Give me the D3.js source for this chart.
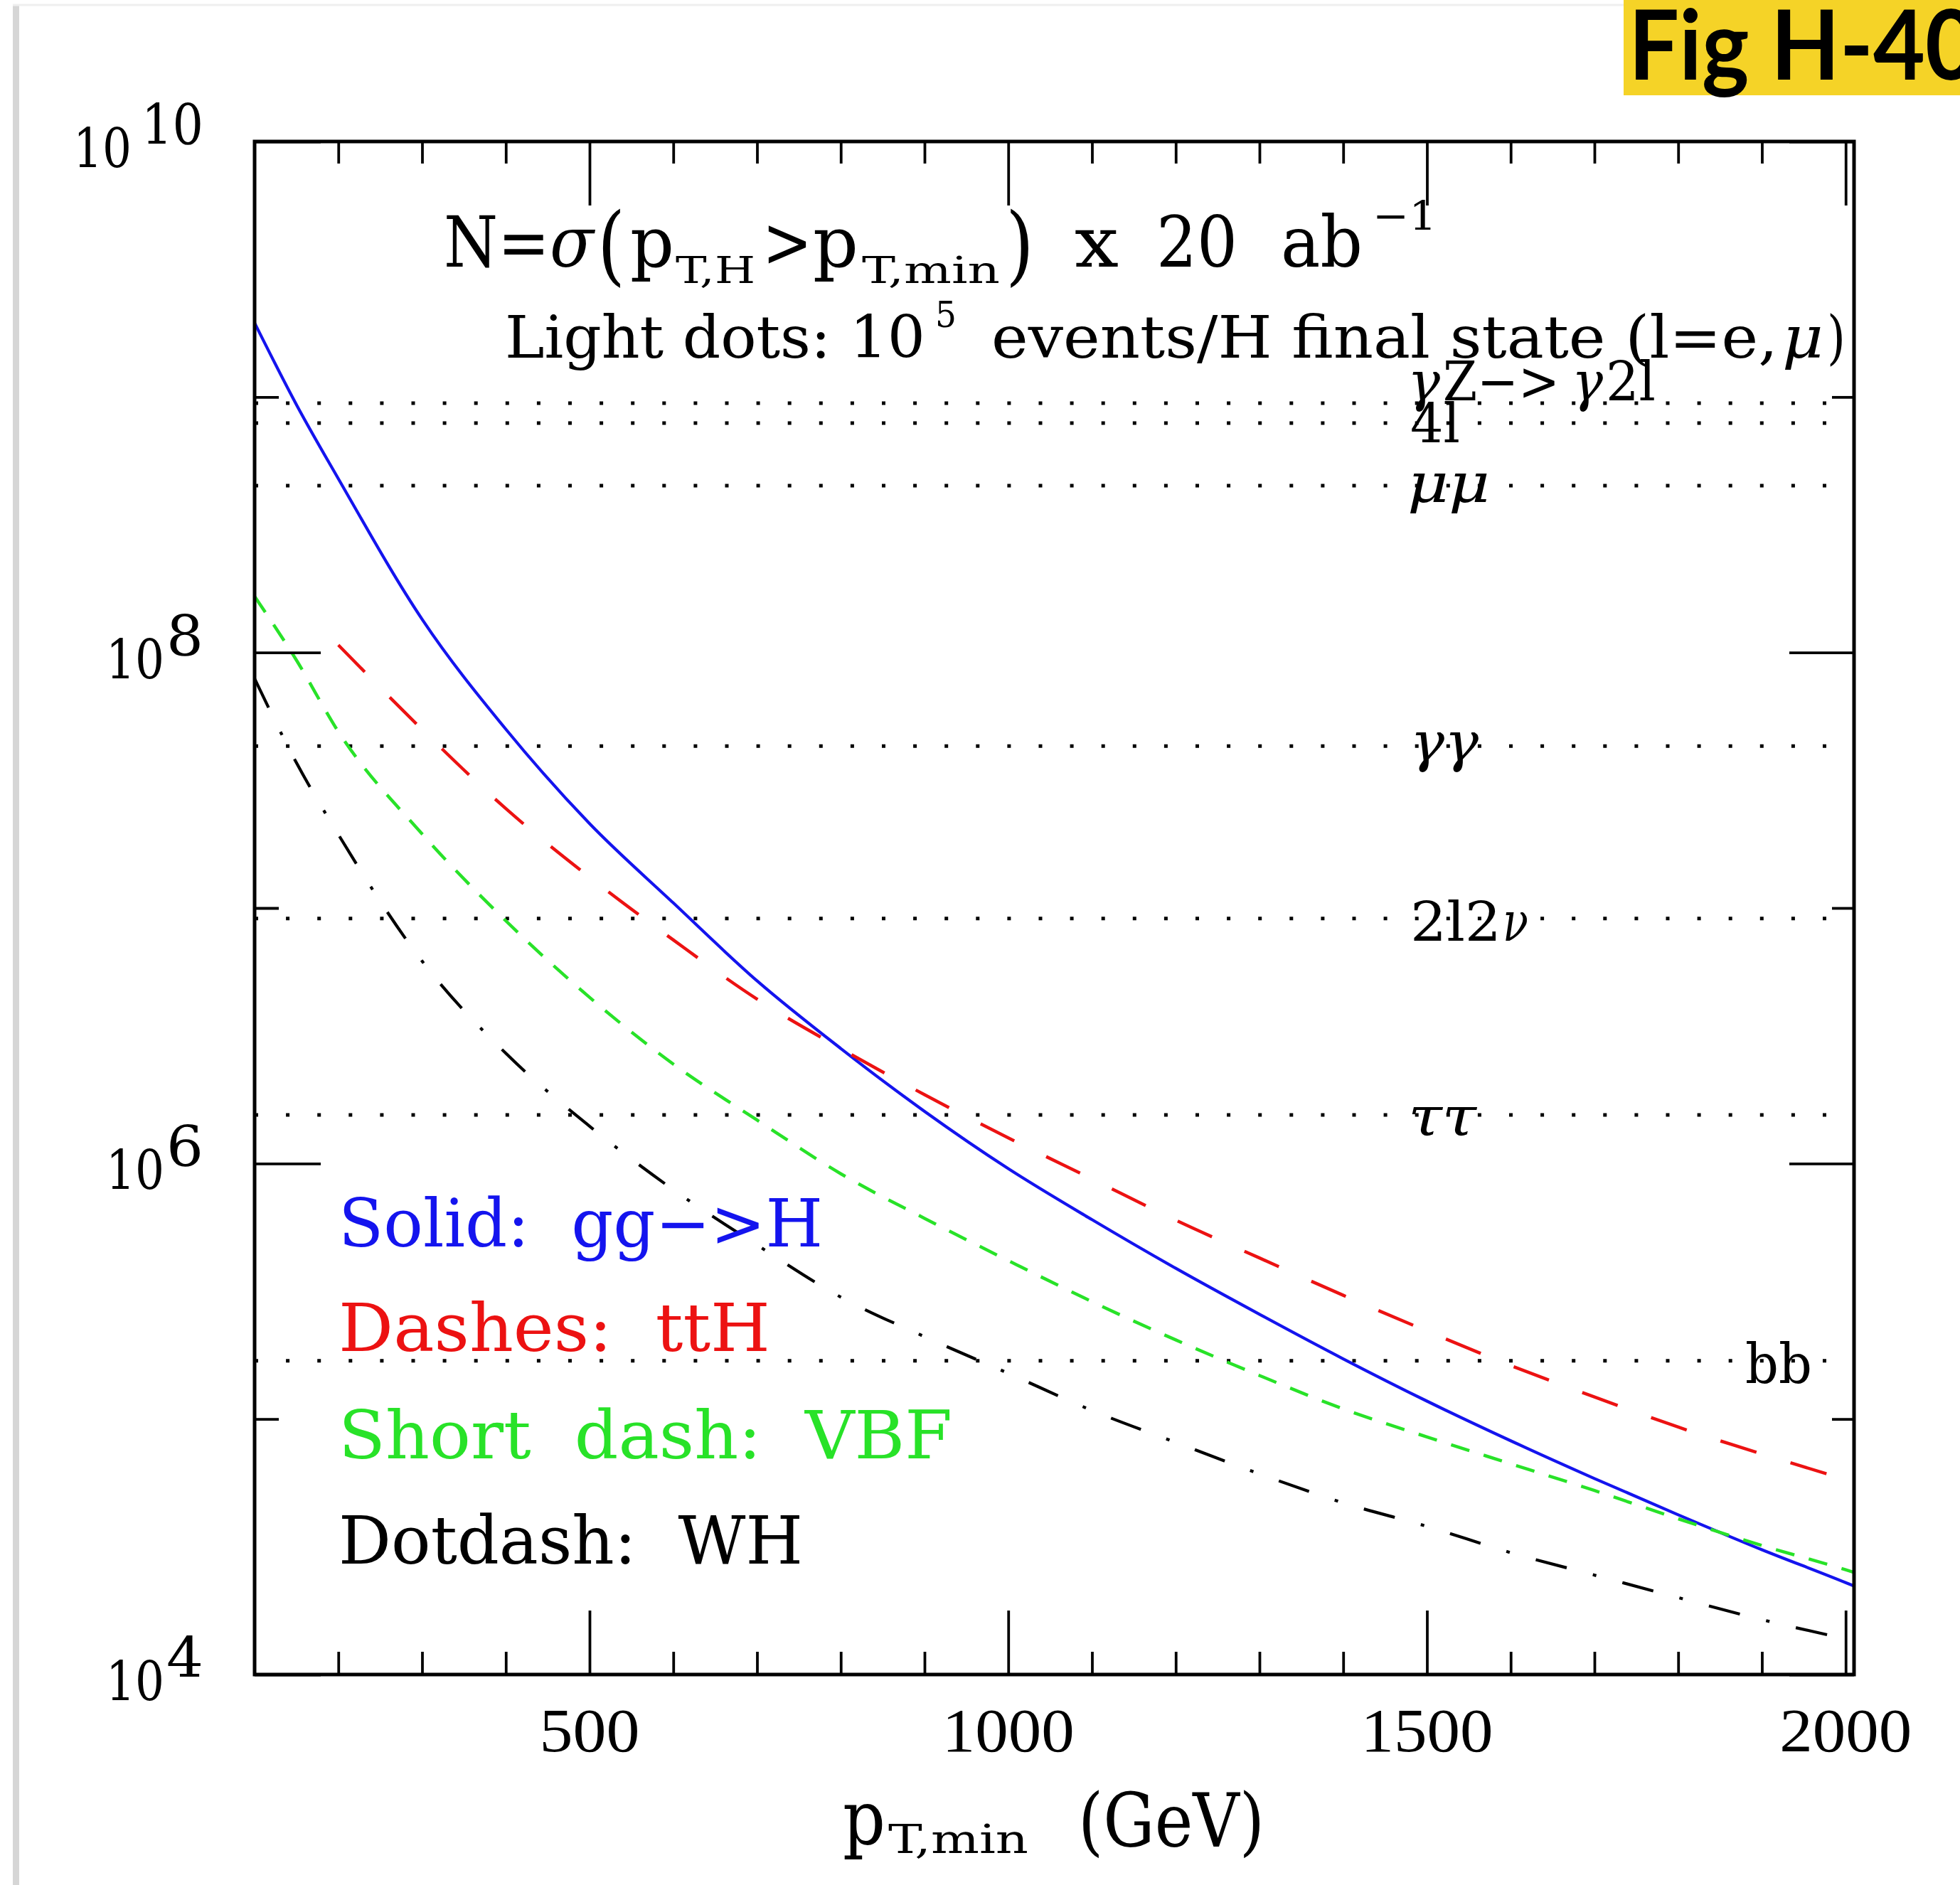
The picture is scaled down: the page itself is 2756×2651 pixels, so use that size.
<!DOCTYPE html>
<html>
<head>
<meta charset="utf-8">
<script src="https://cdn.jsdelivr.net/npm/d3@7"></script>
<style>
  body { margin: 0; background: #fff; }
</style>
</head>
<body>
<script>
const W = 2756, H = 2651;
const margin = { top: 199, right: 149, bottom: 296, left: 358 };

// pT,min (GeV) vs number of events N
const ggH = [[100,1.95e9],[150,9.33e8],[200,4.79e8],[300,1.35e8],[400,5.01e7],[500,2.14e7],[600,1.047e7],
  [700,5.19e6],[800,2.82e6],[900,1.60e6],[1000,9.55e5],[1100,6.03e5],[1200,3.89e5],[1300,2.57e5],
  [1400,1.72e5],[1500,1.175e5],[1600,8.22e4],[1700,5.85e4],[1800,4.22e4],[1900,3.08e4],[2000,2.29e4],[2010,2.22e4]];
const ttH = [[200,1.07e8],[300,5.0e7],[400,2.45e7],[500,1.32e7],[600,7.5e6],[700,4.4e6],[800,2.82e6],
  [900,1.86e6],[1000,1.26e6],[1100,8.7e5],[1200,6.0e5],[1300,4.27e5],[1400,3.05e5],[1500,2.21e5],
  [1600,1.62e5],[1700,1.22e5],[1800,9.3e4],[1900,7.3e4],[2000,5.8e4]];
const vbf = [[100,1.66e8],[150,9.33e7],[200,4.9e7],[300,1.95e7],[400,8.91e6],[500,4.47e6],[600,2.45e6],
  [700,1.48e6],[800,9.12e5],[900,6.1e5],[1000,4.17e5],[1100,2.88e5],[1200,2.04e5],[1300,1.48e5],
  [1400,1.096e5],[1500,8.51e4],[1600,6.68e4],[1700,5.25e4],[1800,4.07e4],[1900,3.2e4],[2000,2.57e4],[2010,2.51e4]];
const wh = [[100,7.9e7],[150,3.7e7],[200,1.94e7],[300,6.2e6],[400,2.7e6],[500,1.4e6],[600,7.9e5],
  [700,4.8e5],[800,3.0e5],[900,2.1e5],[1000,1.51e5],[1100,1.08e5],[1200,8.1e4],[1300,6.1e4],
  [1400,4.7e4],[1500,3.8e4],[1600,3.0e4],[1700,2.45e4],[1800,2.0e4],[1900,1.64e4],[2000,1.38e4]];

// 10^5 events / H final state levels
const channels = ["γZ−>γ2l", "4l", "μμ", "γγ", "2l2ν", "ττ", "bb"];
const channelN = [9.46e8, 7.9e8, 4.5e8, 4.3e7, 9.1e6, 1.55e6, 1.69e5];

const xMajor = [500, 1000, 1500, 2000];
const xMinor = [200, 300, 400, 600, 700, 800, 900, 1100, 1200, 1300, 1400, 1600, 1700, 1800, 1900];
const yMajorExp = [4, 6, 8, 10];
const yMinorExp = [5, 7, 9];

const legendLabels = ["Solid:  gg−>H", "Dashes:  ttH", "Short  dash:  VBF", "Dotdash:  WH"];

const x = d3.scaleLinear().domain([100, 2010]).range([margin.left, W - margin.right]);
const y = d3.scaleLog().domain([1e4, 1e10]).range([H - margin.bottom, margin.top]);

const svg = d3.select("body").append("svg")
  .attr("width", W).attr("height", H)
  .style("background", "#fff");

const SERIF = "'DejaVu Serif', 'Liberation Serif', serif";

function label(parent, px, py, str, o = {}) {
  const t = parent.append("text")
    .attr("x", px).attr("y", py)
    .style("font-family", o.family || SERIF)
    .style("font-size", (o.size || 80) + "px")
    .style("fill", o.fill || "#000")
    .style("white-space", "pre")
    .text(str);
  if (o.italic) t.style("font-style", "italic");
  if (o.weight) t.style("font-weight", o.weight);
  if (o.anchor) t.attr("text-anchor", o.anchor);
  if (o.len) t.attr("textLength", o.len).attr("lengthAdjust", "spacingAndGlyphs");
  return t;
}

// page edge shading
svg.append("rect").attr("x", 18).attr("y", 8).attr("width", 9).attr("height", H - 8).attr("fill", "#d6d6d6");
svg.append("line").attr("x1", 18).attr("x2", 2283).attr("y1", 7).attr("y2", 7)
  .attr("stroke", "#efefef").attr("stroke-width", 3);

// Dotted levels
const dots = svg.append("g");
channelN.forEach(v => {
  dots.append("line")
    .attr("x1", x.range()[0]).attr("x2", x.range()[1])
    .attr("y1", y(v)).attr("y2", y(v))
    .attr("stroke", "#000").attr("stroke-width", 5)
    .attr("stroke-dasharray", "5,39.1");
});

// channel labels (offsets relative to their dotted level)
const chanLayout = [
  { pieces: [["γ", 1979, 46, true], ["Z−>", 2029, 164, false], ["γ", 2210, 44, true], ["2l", 2258, 70, false]], dy: -4 },
  { pieces: [["4l", 1983, 70, false]], dy: 27 },
  { pieces: [["μμ", 1979, 116, true]], dy: 23 },
  { pieces: [["γγ", 1983, 96, true]], dy: 21 },
  { pieces: [["2l2", 1983, 128, false], ["ν", 2113, 36, true]], dy: 31 },
  { pieces: [["ττ", 1980, 96, true]], dy: 29 },
  { pieces: [["bb", 2454, 94, false]], dy: 31 }
];
chanLayout.forEach((c, i) => {
  const by = y(channelN[i]) + c.dy;
  c.pieces.forEach(p => label(svg, p[1], by, p[0], { size: 76, len: p[2], italic: p[3] }));
});

// Curves
const line = d3.line().x(d => x(d[0])).y(d => y(d[1])).curve(d3.curveMonotoneX);
const series = [
  { data: ggH, color: "#1414ee", dash: null, w: 4.2 },
  { data: ttH, color: "#ec1212", dash: "53,50", w: 4.5 },
  { data: vbf, color: "#28e228", dash: "27,21", w: 4.5 },
  { data: wh, color: "#000", dash: "45,38,5,38", w: 4.2 }
];
svg.append("g").selectAll("path")
  .data(series)
  .join("path")
    .attr("d", d => line(d.data))
    .attr("fill", "none")
    .attr("stroke", d => d.color)
    .attr("stroke-width", d => d.w)
    .attr("stroke-dasharray", d => d.dash);

// Ticks on all four sides, pointing inward
function ticks(gen, tr) {
  const g = svg.append("g").attr("transform", tr).call(gen);
  g.select(".domain").remove();
  g.selectAll("text").remove();
  g.selectAll("line").attr("stroke", "#000").attr("stroke-width", 3.8);
}
const yB = H - margin.bottom, yT = margin.top, xL = margin.left, xR = W - margin.right;
ticks(d3.axisBottom(x).tickValues(xMajor).tickSize(-90).tickFormat(""), `translate(0,${yB})`);
ticks(d3.axisBottom(x).tickValues(xMinor).tickSize(-32).tickFormat(""), `translate(0,${yB})`);
ticks(d3.axisTop(x).tickValues(xMajor).tickSize(-90).tickFormat(""), `translate(0,${yT})`);
ticks(d3.axisTop(x).tickValues(xMinor).tickSize(-31).tickFormat(""), `translate(0,${yT})`);
const yMajor = yMajorExp.map(e => Math.pow(10, e));
const yMinor = yMinorExp.map(e => Math.pow(10, e));
ticks(d3.axisLeft(y).tickValues(yMajor).tickSize(-93).tickFormat(""), `translate(${xL},0)`);
ticks(d3.axisLeft(y).tickValues(yMinor).tickSize(-34).tickFormat(""), `translate(${xL},0)`);
ticks(d3.axisRight(y).tickValues(yMajor).tickSize(-91).tickFormat(""), `translate(${xR},0)`);
ticks(d3.axisRight(y).tickValues(yMinor).tickSize(-31).tickFormat(""), `translate(${xR},0)`);

// Frame
svg.append("rect")
  .attr("x", xL).attr("y", yT)
  .attr("width", xR - xL).attr("height", yB - yT)
  .attr("fill", "none").attr("stroke", "#000").attr("stroke-width", 5);

// X tick labels
xMajor.forEach(v => {
  label(svg, x(v), 2463, String(v), { size: 86, anchor: "middle", family: "'Liberation Serif', serif", len: v >= 1000 ? 186 : 141 });
});

// Y tick labels 10^n
yMajorExp.forEach(e => {
  const ty = y(Math.pow(10, e));
  const s = String(e);
  const supLen = s.length > 1 ? 87 : 52;
  label(svg, 286, ty + 4, s, { size: 78, anchor: "end", len: supLen });
  label(svg, 286 - supLen - (s.length > 1 ? 14 : 3), ty + 36, "10", { size: 76, anchor: "end", len: 82 });
});

// X axis title
label(svg, 1185, 2593, "p", { size: 104, len: 60 });
label(svg, 1249, 2606, "T,min", { size: 56, len: 197 });
label(svg, 1516, 2597, "(GeV)", { size: 104, len: 262 });

// Title: N=σ(pT,H>pT,min) x 20 ab^-1
label(svg, 624, 375, "N=", { size: 100, len: 149 });
label(svg, 773, 375, "σ", { size: 100, len: 62, italic: true });
label(svg, 840, 386, "(", { size: 122, len: 39 });
label(svg, 886, 375, "p", { size: 100, len: 62 });
label(svg, 950, 398, "T,H", { size: 52, len: 112 });
label(svg, 1072, 375, ">", { size: 100, len: 70 });
label(svg, 1143, 375, "p", { size: 100, len: 64 });
label(svg, 1212, 398, "T,min", { size: 52, len: 194 });
label(svg, 1414, 386, ")", { size: 122, len: 40 });
label(svg, 1511, 375, "x", { size: 100, len: 62 });
label(svg, 1626, 375, "20", { size: 100, len: 114 });
label(svg, 1801, 375, "ab", { size: 100, len: 115 });
label(svg, 1930, 323, "−1", { size: 56, len: 90 });

// Light dots line
label(svg, 710, 503, "Light dots: 10", { size: 82, len: 591 });
label(svg, 1315, 460, "5", { size: 50, len: 30 });
label(svg, 1394, 503, "events/H final state (l=e,", { size: 82, len: 1106 });
label(svg, 2506, 503, "μ", { size: 82, len: 58, italic: true });
label(svg, 2569, 503, ")", { size: 82, len: 26 });

// Legend
const legendColors = series.map(s => s.color);
const legendX = 476;
const legendBase = [1753, 1900, 2051, 2199];
const legendLen = [681, 607, 863, 653];
legendLabels.forEach((t, i) => {
  label(svg, legendX, legendBase[i], t, { size: 94, fill: legendColors[i], len: legendLen[i] });
});

// Figure tag
svg.append("rect").attr("x", 2283).attr("y", 0).attr("width", W - 2283).attr("height", 134).attr("fill", "#f5d327");
label(svg, 2290, 112, "Fig H-40", { size: 136, weight: 700, family: "Lato, 'Open Sans', sans-serif", len: 490 });
</script>
</body>
</html>
